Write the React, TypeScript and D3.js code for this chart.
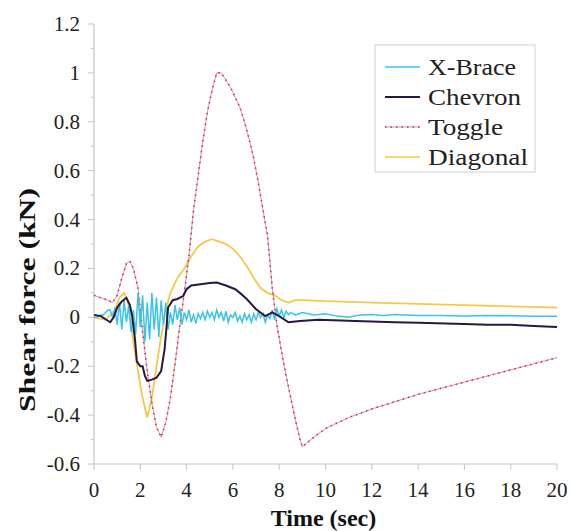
import React from "react";
import * as d3 from "d3";

const xTicks = [0, 2, 4, 6, 8, 10, 12, 14, 16, 18, 20];
const yTicks = [-0.6, -0.4, -0.2, 0, 0.2, 0.4, 0.6, 0.8, 1, 1.2];
const yTickLabels = ["-0.6", "-0.4", "-0.2", "0", "0.2", "0.4", "0.6", "0.8", "1", "1.2"];

const seriesNames = ["X-Brace", "Chevron", "Toggle", "Diagonal"];

const xbraceT = [0, 0.1, 0.2, 0.3, 0.4, 0.5, 0.6, 0.7, 0.8, 0.9, 1.0, 1.1, 1.2, 1.3, 1.4, 1.5, 1.6, 1.7, 1.8, 1.9, 2.0, 2.1, 2.2, 2.3, 2.4, 2.5, 2.6, 2.7, 2.8, 2.9, 3.0, 3.1, 3.2, 3.3, 3.4, 3.5, 3.6, 3.7, 3.8, 3.9, 4.0, 4.1, 4.2, 4.3, 4.4, 4.5, 4.6, 4.7, 4.8, 4.9, 5.0, 5.1, 5.2, 5.3, 5.4, 5.5, 5.6, 5.7, 5.8, 5.9, 6.0, 6.1, 6.2, 6.3, 6.4, 6.5, 6.6, 6.7, 6.8, 6.9, 7.0, 7.1, 7.2, 7.3, 7.4, 7.5, 7.6, 7.7, 7.8, 7.9, 8.0, 8.1, 8.2, 8.3, 8.4, 8.5, 8.7, 9.0, 9.5, 10, 10.5, 11, 11.5, 12, 12.5, 13, 13.5, 14, 15, 16, 17, 18, 19, 20];
const xbraceV = [0.0, 0.0, 0.005, 0.01, 0.01, 0.02, 0.03, 0.03, 0.0, 0.04, -0.03, 0.06, -0.05, 0.07, -0.02, 0.05, -0.06, 0.03, -0.07, 0.1, -0.04, 0.09, -0.1, 0.06, -0.09, 0.1, -0.05, 0.08, -0.08, 0.07, -0.03, 0.06, -0.05, 0.02, -0.03, 0.05, -0.01, 0.04, -0.03, 0.02, -0.01, 0.03, -0.02, 0.01, -0.025, 0.015, -0.005, 0.02, -0.01, 0.025, 0.0, 0.02, -0.01, 0.03, 0.0, 0.02, -0.015, 0.025, -0.02, 0.01, 0.0, 0.02, -0.015, 0.005, -0.02, 0.015, -0.01, 0.01, -0.02, 0.015, -0.01, 0.02, 0.0, 0.015, -0.02, 0.01, -0.005, 0.03, -0.01, 0.035, 0.005, 0.03, 0.0, 0.025, 0.01, 0.02, 0.01, 0.02, 0.01, 0.015, 0.005, 0.0, 0.01, 0.012, 0.008, 0.012, 0.01, 0.007, 0.008, 0.005, 0.008, 0.006, 0.004, 0.004];

const chevronT = [0, 0.3, 0.5, 0.7, 0.85, 1.0, 1.2, 1.4, 1.55, 1.65, 1.77, 1.85, 2.0, 2.1, 2.2, 2.3, 2.5, 2.7, 2.9, 3.05, 3.15, 3.2, 3.4, 3.6, 3.85, 4.0, 4.2, 4.6, 5.0, 5.3, 5.7, 6.1, 6.3, 6.6, 7.0, 7.4, 7.7, 8.0, 8.4, 8.9, 9.7, 11.3, 13, 14, 16, 17, 18, 19, 20];
const chevronV = [0.01, 0.005, -0.008, -0.02, 0.0, 0.04, 0.065, 0.08, 0.05, 0.005, -0.09, -0.18, -0.2, -0.2, -0.24, -0.26, -0.255, -0.247, -0.22, -0.13, -0.02, 0.04, 0.07, 0.075, 0.087, 0.115, 0.13, 0.135, 0.14, 0.142, 0.13, 0.115, 0.1, 0.075, 0.033, 0.005, 0.02, 0.005, -0.02, -0.015, -0.01, -0.015, -0.02, -0.022, -0.027, -0.03, -0.03, -0.035, -0.04];

const toggleT = [0, 0.3, 0.6, 0.8, 1.0, 1.2, 1.4, 1.55, 1.7, 1.9, 2.1, 2.3, 2.5, 2.7, 2.9, 3.1, 3.3, 3.5, 3.7, 3.9, 4.1, 4.3, 4.5, 4.7, 4.9, 5.1, 5.3, 5.5, 5.7, 5.9, 6.1, 6.3, 6.5, 6.7, 6.9, 7.1, 7.3, 7.5, 7.7, 7.9, 8.1, 8.3, 8.5, 8.7, 8.9, 9.0, 9.5, 10, 11, 12, 13, 14, 15, 16, 17, 18, 19, 20];
const toggleV = [0.09, 0.08, 0.07, 0.06, 0.09, 0.16, 0.22, 0.23, 0.2, 0.12, -0.06, -0.22, -0.35, -0.45, -0.49, -0.43, -0.33, -0.19, -0.04, 0.1, 0.25, 0.44, 0.58, 0.72, 0.84, 0.93, 1.0, 1.0, 0.97, 0.94, 0.9, 0.86, 0.8, 0.73, 0.65, 0.55, 0.44, 0.33, 0.12, -0.03, -0.14, -0.24, -0.33, -0.42, -0.5, -0.53, -0.49, -0.455, -0.41, -0.375, -0.345, -0.315, -0.29, -0.265, -0.24, -0.215, -0.19, -0.165];

const diagonalT = [0, 0.5, 0.9, 1.1, 1.3, 1.5, 1.7, 1.9, 2.1, 2.3, 2.5, 2.7, 2.9, 3.1, 3.3, 3.6, 3.9, 4.2, 4.5, 4.8, 5.1, 5.4, 5.7, 6.0, 6.3, 6.6, 6.9, 7.2, 7.5, 7.8, 8.1, 8.4, 8.7, 9, 10, 12, 14, 16, 18, 20];
const diagonalV = [0, -0.01, 0.03, 0.08, 0.1, 0.05, -0.1, -0.22, -0.33, -0.41, -0.33, -0.2, -0.08, 0.03, 0.1, 0.16, 0.2, 0.25, 0.29, 0.31, 0.32, 0.31, 0.3, 0.28, 0.25, 0.21, 0.16, 0.12, 0.1, 0.09, 0.07, 0.06, 0.07, 0.07, 0.066, 0.06, 0.055, 0.05, 0.045, 0.04];

const colors = ["#3cc4e8", "#2a1840", "#e2607a", "#f4c94a"];

const W = 571, H = 531;
const M = { left: 94, right: 557, top: 24, bottom: 464 };
const FONT = '"Liberation Serif"';

export default function App() {
  const x = d3.scaleLinear().domain([0, 20]).range([M.left, M.right]);
  const y = d3.scaleLinear().domain([-0.6, 1.2]).range([M.bottom, M.top]);
  const line = d3.line<[number, number]>().x(d => x(d[0])).y(d => y(d[1]));
  const zip = (t: number[], v: number[]) => t.map((tt, i) => [tt, v[i]] as [number, number]);

  const xb = zip(xbraceT, xbraceV);
  const ch = zip(chevronT, chevronV);
  const tg = zip(toggleT, toggleV);
  const dg = zip(diagonalT, diagonalV);

  const minorY = d3.range(-0.6, 1.2001, 0.1);
  const legendY = [67, 97, 127, 157];
  const legendLen = [88, 93, 75, 100];
  const ts = { fontFamily: FONT };

  return (
    <svg width={W} height={H} style={{ position: "absolute", left: 0, top: 0, background: "#fff" }}>
      {/* axes */}
      <line x1={M.left} x2={M.left} y1={y(1.2)} y2={y(-0.6)} stroke="#c4c4c4" strokeWidth={1.2} />
      <line x1={M.left} x2={M.right} y1={y(-0.6)} y2={y(-0.6)} stroke="#c4c4c4" strokeWidth={1.2} />
      {minorY.map((v, i) => (
        <line key={"my" + i} x1={M.left - (i % 2 === 0 ? 6 : 3)} x2={M.left} y1={y(v)} y2={y(v)} stroke="#c4c4c4" strokeWidth={1} />
      ))}
      {xTicks.map(t => (
        <line key={"xt" + t} x1={x(t)} x2={x(t)} y1={M.bottom} y2={M.bottom + 6} stroke="#c4c4c4" strokeWidth={1} />
      ))}
      {yTicks.map((v, i) => (
        <text key={"yl" + i} style={ts} x={80} y={y(v)} textAnchor="end" dominantBaseline="central" fontSize={21} fill="#222">{yTickLabels[i]}</text>
      ))}
      {xTicks.map(t => (
        <text key={"xl" + t} style={ts} x={x(t)} y={490} textAnchor="middle" dominantBaseline="central" fontSize={21} fill="#222">{t}</text>
      ))}
      <text style={ts} x={x(10) - 2} y={518} textAnchor="middle" dominantBaseline="central" fontSize={24} fontWeight="bold" fill="#111">Time (sec)</text>
      <text style={ts} transform="translate(27,300) rotate(-90)" textAnchor="middle" dominantBaseline="central" fontSize={23} fontWeight="bold" fill="#111" textLength={224} lengthAdjust="spacingAndGlyphs">Shear force (kN)</text>

      {/* series */}
      <path d={line(dg) || ""} fill="none" stroke={colors[3]} strokeWidth={1.8} />
      <path d={line(tg) || ""} fill="none" stroke={colors[2]} strokeWidth={1} opacity={0.7} />
      <path d={line(tg) || ""} fill="none" stroke="#b04060" strokeWidth={1.6} strokeDasharray="1.5,4" />
      <path d={line(xb) || ""} fill="none" stroke={colors[0]} strokeWidth={1.5} />
      <path d={line(ch) || ""} fill="none" stroke={colors[1]} strokeWidth={2} />

      {/* legend */}
      <rect x={375} y={45} width={160} height={127} fill="#fff" stroke="#d0d0d0" strokeWidth={1} />
      {seriesNames.map((n, i) => (
        <g key={n}>
          {i === 2 ? (
            <>
              <line x1={385} x2={420} y1={legendY[i]} y2={legendY[i]} stroke={colors[2]} strokeWidth={1} opacity={0.7} />
              <line x1={385} x2={420} y1={legendY[i]} y2={legendY[i]} stroke="#b04060" strokeWidth={1.6} strokeDasharray="1.5,4" />
            </>
          ) : (
            <line x1={385} x2={420} y1={legendY[i]} y2={legendY[i]} stroke={colors[i]} strokeWidth={i === 1 ? 2 : 1.6} />
          )}
          <text style={ts} x={428} y={legendY[i]} dominantBaseline="central" fontSize={23} fill="#222" textLength={legendLen[i]} lengthAdjust="spacingAndGlyphs">{n}</text>
        </g>
      ))}
    </svg>
  );
}
